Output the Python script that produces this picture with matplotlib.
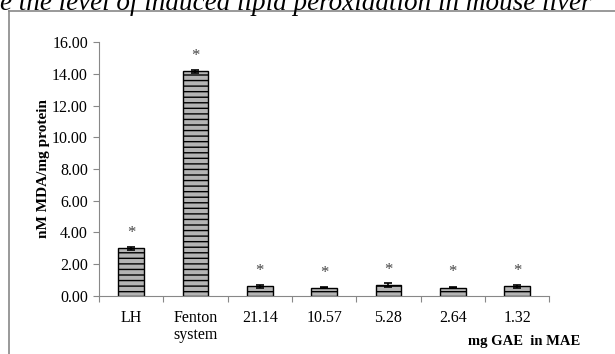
import matplotlib
matplotlib.use("Agg")
import matplotlib.pyplot as plt
from matplotlib.lines import Line2D
import numpy as np

categories = ["LH", "Fenton\nsystem", "21.14", "10.57", "5.28", "2.64", "1.32"]
values = [3.00, 14.15, 0.60, 0.52, 0.68, 0.53, 0.60]
errors = [0.10, 0.10, 0.08, 0.05, 0.12, 0.05, 0.08]
yticks = [0, 2, 4, 6, 8, 10, 12, 14, 16]

plt.rcParams['font.family'] = ['Liberation Serif', 'DejaVu Serif']
plt.rcParams['hatch.linewidth'] = 1.0

fig = plt.figure(figsize=(6.15, 3.54), dpi=100)
ax = fig.add_axes([0.161, 0.164, 0.732, 0.717])

x = np.arange(len(categories))
ax.bar(x, values, width=0.4, color='#b4b4b4', edgecolor='black', linewidth=1.0,
       hatch='---', zorder=2)
ax.errorbar(x, values, yerr=errors, fmt='none', ecolor='black', elinewidth=1.2,
            capsize=3, capthick=1.2, zorder=3)

# significance stars
for xi, v in zip(x, values):
    ax.text(xi, v + 0.95, '*', ha='center', va='center', fontsize=12, color='#444444')

ax.set_xlim(-0.5, len(categories) - 0.5)
ax.set_ylim(0, 16)
ax.set_yticks(yticks)
ax.set_yticklabels(['%.2f' % t for t in yticks], fontsize=11.5)

# tick marks between categories, labels at centres
ax.set_xticks(np.arange(-0.5, len(categories)))
ax.set_xticklabels([])
ax.set_xticks(x, minor=True)
ax.set_xticklabels(categories, minor=True, fontsize=11.5, linespacing=1.1)
ax.tick_params(axis='x', which='minor', length=0, pad=10)
ax.tick_params(axis='x', which='major', length=4, color='#888888', direction='out')
ax.tick_params(axis='y', length=4, color='#888888', direction='out', pad=4)

for s in ['top', 'right']:
    ax.spines[s].set_visible(False)
for s in ['left', 'bottom']:
    ax.spines[s].set_color('#888888')

ax.set_ylabel('nM MDA/mg protein', fontsize=11, fontweight='bold')
ax.yaxis.set_label_coords(-0.108, 0.5)
fig.text(0.944, 0.034, 'mg GAE  in MAE', ha='right', va='center', fontsize=10.5,
         fontweight='bold')

# frame of the embedded chart
fig.add_artist(Line2D([9 / 615, 9 / 615], [0, 1 - 11 / 354], color='#888888', lw=1.2))
fig.add_artist(Line2D([9 / 615, 1], [1 - 11 / 354, 1 - 11 / 354], color='#888888', lw=1.2))

# cut-off caption at the top
fig.text(592 / 615, 1 - 10 / 354, 'e the level of induced lipid peroxidation in mouse liver',
         ha='right', va='baseline', fontsize=19.5, style='italic')

fig.savefig('out.png', dpi=100)
